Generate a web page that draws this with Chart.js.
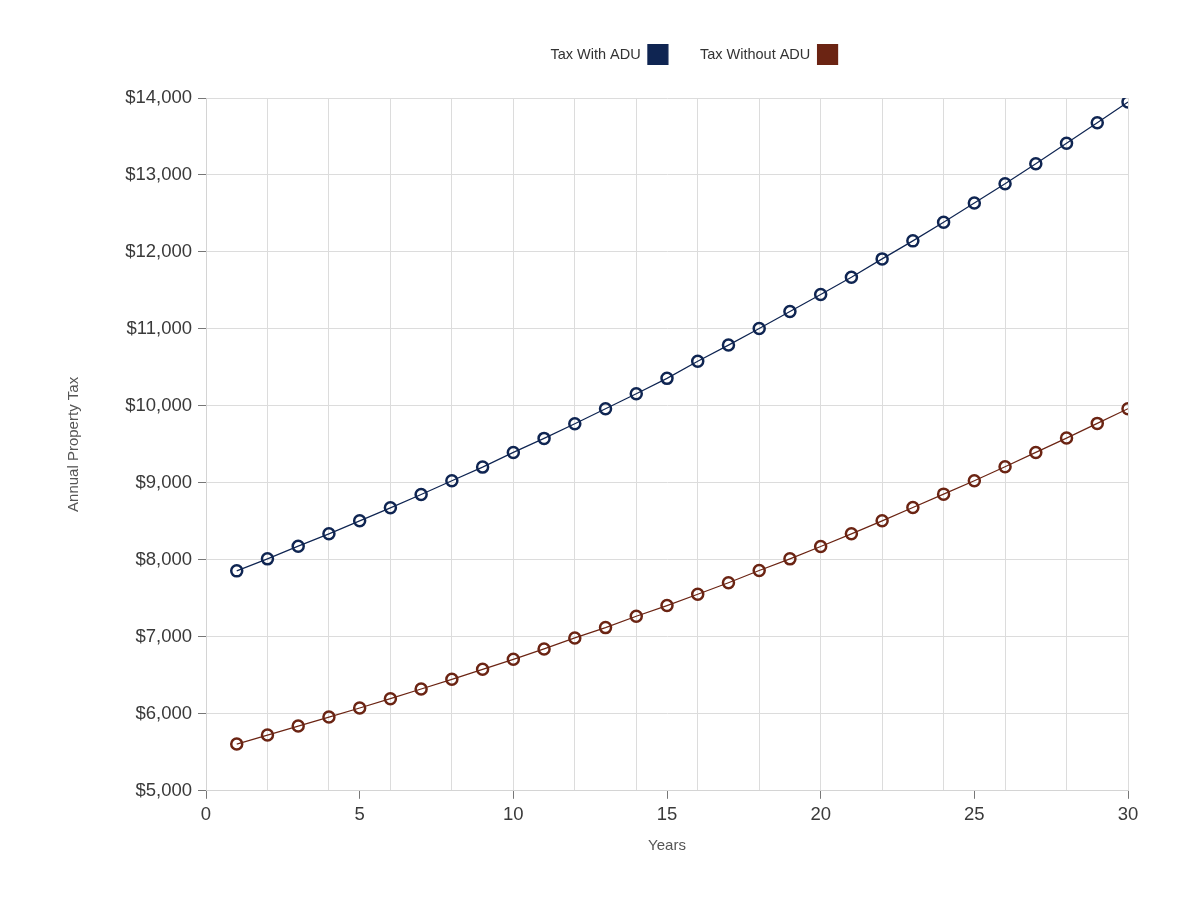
<!DOCTYPE html>
<html><head><meta charset="utf-8">
<script src="https://cdn.jsdelivr.net/npm/chart.js@4.4.1/dist/chart.umd.min.js"></script>
<style>html,body{margin:0;padding:0;background:#fff}#wrap{width:1200px;height:900px}</style>
</head><body><div id="wrap"><canvas id="c" width="1200" height="900"></canvas></div>
<script>
const years = [1,2,3,4,5,6,7,8,9,10,11,12,13,14,15,16,17,18,19,20,21,22,23,24,25,26,27,28,29,30];
const taxWithADU = [7857,8013,8178,8338,8507,8676,8850,9028,9205,9396,9578,9769,9964,10159,10358,10580,10790,11005,11226,11447,11672,11910,12144,12387,12635,12886,13146,13411,13679,13948];
const taxWithoutADU = [5607,5724,5841,5958,6075,6197,6322,6448,6578,6708,6843,6986,7120,7267,7406,7553,7703,7861,8013,8173,8338,8507,8681,8854,9028,9210,9396,9582,9773,9964];
const seriesNames = ['Tax With ADU', 'Tax Without ADU'];
const seriesColors = ['#0f2552', '#6b2413'];
const xAxisTitle = 'Years';
const yAxisTitle = 'Annual Property Tax';

const FONT = "'Liberation Sans', Arial, sans-serif";

const legendShift = {
  id: 'legendShift',
  afterLayout(chart) {
    const lg = chart.legend;
    if (!lg) return;
    const dx = 694 - (lg.left + lg.right) / 2;
    lg.left += dx; lg.right += dx;
    const dy = 12.5 - lg.top;
    lg.top += dy; lg.bottom += dy;
  }
};

function mk(vals, i) {
  return {
    label: seriesNames[i],
    data: years.map((y, k) => ({x: y, y: vals[k]})),
    borderColor: seriesColors[i],
    backgroundColor: seriesColors[i],
    borderWidth: 1.2,
    pointRadius: 5.5,
    pointBorderWidth: 2.5,
    pointBackgroundColor: 'rgba(255,255,255,0)',
    pointBorderColor: seriesColors[i],
    fill: false,
    tension: 0
  };
}

new Chart(document.getElementById('c'), {
  type: 'line',
  data: { datasets: [mk(taxWithADU, 0), mk(taxWithoutADU, 1)] },
  options: {
    responsive: false,
    animation: false,
    layout: { padding: { left: 61, right: 72, top: 36, bottom: 41 } },
    plugins: {
      tooltip: { enabled: false },
      legend: {
        position: 'top',
        rtl: true,
        reverse: true,
        textDirection: 'ltr',
        labels: {
          boxWidth: 20, boxHeight: 20, padding: 32,
          color: '#333',
          font: { family: FONT, size: 14.5 }
        }
      }
    },
    scales: {
      x: {
        type: 'linear', min: 0, max: 30,
        ticks: {
          stepSize: 1, autoSkip: false, maxRotation: 0, padding: 5,
          color: '#3a3a3a', font: { family: FONT, size: 18.5 },
          callback: v => (v % 5 === 0 ? String(v) : '')
        },
        grid: {
          color: c => (c.tick && c.tick.value % 2 === 0 ? '#dcdcdc' : 'rgba(0,0,0,0)'),
          tickColor: c => (c.tick && c.tick.value % 5 === 0 ? '#777' : 'rgba(0,0,0,0)'),
          tickLength: 8, lineWidth: 1
        },
        border: { color: '#d4d4d4' },
        title: { display: true, text: xAxisTitle, color: '#555', font: { family: FONT, size: 15 }, padding: { top: 6, bottom: 4 } }
      },
      y: {
        min: 5000, max: 14000,
        afterFit: s => { s.width = 145; },
        ticks: {
          stepSize: 1000, padding: 6,
          color: '#3a3a3a', font: { family: FONT, size: 18.5 },
          callback: v => '$' + Number(v).toLocaleString('en-US')
        },
        grid: { color: '#dcdcdc', tickColor: '#777', tickLength: 8, lineWidth: 1 },
        border: { color: '#d4d4d4' },
        title: { display: true, text: yAxisTitle, color: '#555', font: { family: FONT, size: 15 }, padding: 4 }
      }
    }
  },
  plugins: [legendShift]
});
</script></body></html>
